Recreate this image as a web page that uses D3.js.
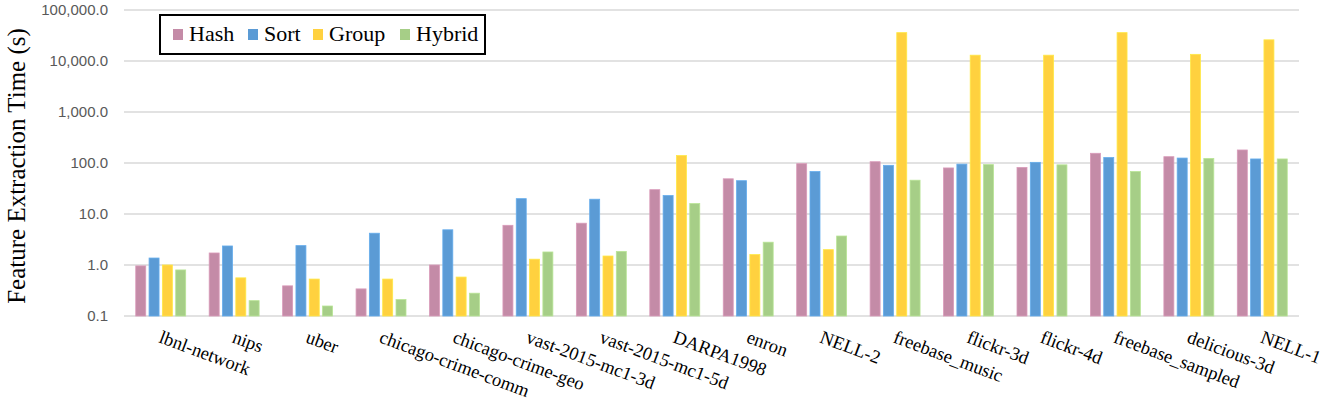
<!DOCTYPE html>
<html>
<head>
<meta charset="utf-8">
<script src="https://cdn.jsdelivr.net/npm/d3@7"></script>
<style>
  body { margin: 0; background: #fff; }
  svg { display: block; }
</style>
</head>
<body>
<svg id="chart" width="1325" height="400"></svg>
<script>
// Data
var categories = ["lbnl-network", "nips", "uber", "chicago-crime-comm", "chicago-crime-geo",
  "vast-2015-mc1-3d", "vast-2015-mc1-5d", "DARPA1998", "enron", "NELL-2", "freebase_music",
  "flickr-3d", "flickr-4d", "freebase_sampled", "delicious-3d", "NELL-1"];
var seriesNames = ["Hash", "Sort", "Group", "Hybrid"];
var hashTimes   = [0.96, 1.72, 0.39, 0.34, 1.0, 6.0, 6.6, 30, 49, 97, 106, 80, 82, 155, 133, 180];
var sortTimes   = [1.37, 2.36, 2.4, 4.2, 4.9, 20, 19.5, 23, 45, 68, 90, 95, 103, 128, 125, 120];
var groupTimes  = [1.0, 0.56, 0.53, 0.53, 0.58, 1.3, 1.5, 140, 1.6, 2.0, 36000, 13000, 13000, 36000, 13500, 26000];
var hybridTimes = [0.8, 0.2, 0.157, 0.21, 0.28, 1.8, 1.85, 16, 2.8, 3.7, 46, 93, 92, 68, 123, 120];
var yTicks = [0.1, 1, 10, 100, 1000, 10000, 100000];

var colors = ["#c48ba7", "#5b9bd5", "#ffd13f", "#a6ce87"];
var allSeries = [hashTimes, sortTimes, groupTimes, hybridTimes];

var svg = d3.select("#chart");
var plotLeft = 124, plotRight = 1299, plotTop = 10, plotBottom = 316;

var x0 = d3.scaleBand()
  .domain(categories)
  .range([plotLeft, plotRight])
  .paddingInner(0.32)
  .paddingOuter(0.16);

var x1 = d3.scaleBand()
  .domain(seriesNames)
  .range([0, x0.bandwidth()])
  .paddingInner(0.25)
  .paddingOuter(0);

var y = d3.scaleLog()
  .domain([0.1, 100000])
  .range([plotBottom, plotTop]);

var fmt = d3.format(",.1f");

// Gridlines
svg.append("g")
  .selectAll("line")
  .data(yTicks)
  .enter().append("line")
  .attr("x1", plotLeft)
  .attr("x2", plotRight)
  .attr("y1", function (d) { return y(d); })
  .attr("y2", function (d) { return y(d); })
  .style("stroke", "#d9d9d9")
  .style("stroke-width", 1.5);

// Y axis labels
var yAxis = d3.axisLeft(y)
  .tickValues(yTicks)
  .tickFormat(fmt)
  .tickSize(0)
  .tickPadding(16);

var yg = svg.append("g")
  .attr("transform", "translate(" + plotLeft + ",0)")
  .call(yAxis);
yg.select(".domain").remove();
yg.selectAll("text")
  .style("font-family", "'Liberation Sans', Arial, sans-serif")
  .style("font-size", "15px")
  .style("fill", "#595959");

// Bars
var rows = categories.map(function (c, i) {
  return {
    cat: c,
    vals: seriesNames.map(function (s, j) { return { name: s, value: allSeries[j][i], color: colors[j] }; })
  };
});

var groups = svg.append("g")
  .selectAll("g")
  .data(rows)
  .enter().append("g")
  .attr("transform", function (d) { return "translate(" + x0(d.cat) + ",0)"; });

groups.selectAll("rect")
  .data(function (d) { return d.vals; })
  .enter().append("rect")
  .attr("x", function (d) { return x1(d.name); })
  .attr("width", x1.bandwidth())
  .attr("y", function (d) { return y(d.value); })
  .attr("height", function (d) { return plotBottom - y(d.value); })
  .style("fill", function (d) { return d.color; })
  .style("stroke", function (d) { return d3.color(d.color).brighter(0.3); })
  .style("stroke-width", 0.8);

// X axis labels (rotated)
var xAxis = d3.axisBottom(x0).tickSize(0).tickPadding(0);
var xg = svg.append("g")
  .attr("transform", "translate(0," + plotBottom + ")")
  .call(xAxis);
xg.select(".domain").remove();
xg.selectAll("text")
  .style("font-family", "'Liberation Serif', 'Times New Roman', serif")
  .style("font-size", "18.5px")
  .style("fill", "#000")
  .style("text-anchor", "start")
  .attr("x", -3)
  .attr("y", 0)
  .attr("dy", 0)
  .attr("transform", "translate(0,27) rotate(20.5)");

// Y title
svg.append("text")
  .attr("transform", "translate(25," + ((plotTop + plotBottom) / 2 + 3) + ") rotate(-90)")
  .attr("text-anchor", "middle")
  .style("font-family", "'Liberation Serif', 'Times New Roman', serif")
  .style("font-size", "25px")
  .style("fill", "#000")
  .text("Feature Extraction Time (s)");

// Legend
var legend = svg.append("g");
legend.append("rect")
  .attr("x", 160)
  .attr("y", 15)
  .attr("width", 325)
  .attr("height", 39)
  .style("fill", "#fff")
  .style("stroke", "#000")
  .style("stroke-width", 2);

var legendX = [173, 248, 313, 400];
var item = legend.selectAll(".item")
  .data(seriesNames)
  .enter().append("g")
  .attr("class", "item")
  .attr("transform", function (d, i) { return "translate(" + legendX[i] + ",29)"; });
item.append("rect")
  .attr("width", 10)
  .attr("height", 11)
  .style("fill", function (d, i) { return colors[i]; });
item.append("text")
  .attr("x", 16)
  .attr("y", 12)
  .style("font-family", "'Liberation Serif', 'Times New Roman', serif")
  .style("font-size", "22px")
  .text(function (d) { return d; });
</script>
</body>
</html>
